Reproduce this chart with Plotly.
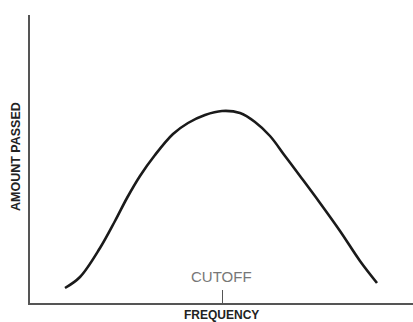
import plotly.graph_objects as go

# Band-pass response: frequency (arbitrary units) vs amount passed
frequency = [35, 50, 70, 85, 97, 110, 125, 143, 158, 175, 192,
             210, 225, 240, 255, 270, 290, 310, 330, 347]
amount_passed = [15, 26, 55, 82, 105, 127, 148, 169, 180, 188, 192,
                 190, 181, 167, 147, 127, 100, 72, 42, 20]
cutoff = 192

X_MAX, Y_MAX = 383, 288

fig = go.Figure()
fig.add_trace(go.Scatter(
    x=frequency, y=amount_passed, mode="lines",
    line=dict(color="#1a1a1a", width=2.6, shape="spline", smoothing=1.0),
    hoverinfo="skip", showlegend=False,
))

fig.update_layout(
    width=413, height=322,
    margin=dict(l=30, r=0, t=15, b=19),
    paper_bgcolor="white", plot_bgcolor="white",
    xaxis=dict(range=[0, X_MAX], showgrid=False, zeroline=False,
               showline=True, linecolor="#555", linewidth=1.6,
               tickvals=[cutoff], ticktext=[""], ticks="inside",
               ticklen=13, tickwidth=1.2, tickcolor="#555", fixedrange=True),
    yaxis=dict(range=[0, Y_MAX], showgrid=False, zeroline=False,
               showline=True, linecolor="#555", linewidth=1.6,
               showticklabels=False, ticks="", fixedrange=True),
    annotations=[
        dict(x=cutoff / X_MAX, y=27 / Y_MAX, xref="paper", yref="paper",
             text="CUTOFF", showarrow=False, yanchor="middle",
             font=dict(family="Liberation Sans", size=15, color="#777")),
        dict(x=cutoff / X_MAX, y=-3 / Y_MAX, xref="paper", yref="paper",
             text="<b>FREQUENCY</b>", showarrow=False, yanchor="top",
             font=dict(family="Liberation Sans", size=12, color="#222")),
        dict(x=-14 / X_MAX, y=146 / Y_MAX, xref="paper", yref="paper",
             text="<b>AMOUNT PASSED</b>", showarrow=False, textangle=-90,
             xanchor="center", yanchor="middle",
             font=dict(family="Liberation Sans", size=12.5, color="#222")),
    ],
)

fig.write_html("out.html")
